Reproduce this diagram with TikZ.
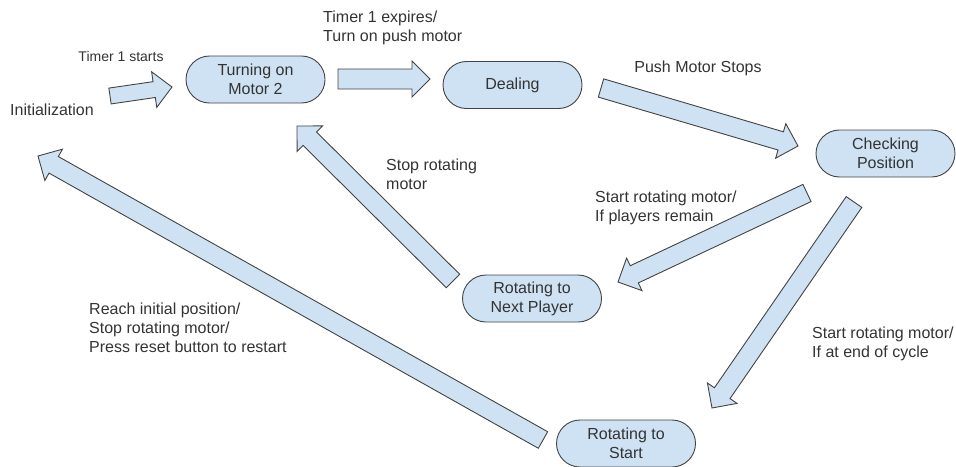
\documentclass[tikz,border=0pt]{standalone}
\usepackage{fontspec}
\setmainfont{Liberation Sans}
\usetikzlibrary{calc}
\usetikzlibrary{shapes.misc}

\definecolor{stateblue}{HTML}{CFE2F3}
\definecolor{edgegray}{HTML}{434343}
\definecolor{textgray}{HTML}{333333}

\tikzset{
  state/.style={rounded rectangle, draw=edgegray, fill=stateblue, line width=0.9pt,
    minimum width=139pt, minimum height=47pt, inner sep=0pt, align=center,
    text=textgray, font=\fontsize{16}{19}\selectfont},
  lbl/.style={align=left, inner sep=0pt, text=textgray, font=\fontsize{16}{19}\selectfont},
  arrowbox/.style={draw=edgegray, fill=stateblue, line width=0.9pt, line join=miter}
}

% block arrow between two named coordinates, optional half shaft width
\newcommand{\blockarrow}[3][9.5pt]{%
  \coordinate (hb) at ($(#3)!18pt!(#2)$);
  \draw[arrowbox] ($(#2)!#1!90:(#3)$) -- ($(hb)!#1!90:(#3)$) -- ($(hb)!18pt!90:(#3)$) -- (#3)
    -- ($(hb)!18pt!-90:(#3)$) -- ($(hb)!#1!-90:(#3)$) -- ($(#2)!#1!-90:(#3)$) -- cycle;
}

\begin{document}
\begin{tikzpicture}[x=1pt,y=-1pt]
  \useasboundingbox (0,0) rectangle (956,466);

  \node[state] (motor) at (255.5,79.5) {Turning on\\Motor 2};
  \node[state] (deal) at (512.5,85) {Dealing};
  \node[state] (check) at (885.5,153.5) {Checking\\Position};
  \node[state] (nextp) at (532,298.5) {Rotating to\\Next Player};
  \node[state] (rstart) at (626,443.5) {Rotating to\\Start};

  % arrow ends
  \coordinate (a1s) at (110,96);  \coordinate (a1e) at (172,87);
  \coordinate (a2s) at (338,79);  \coordinate (a2e) at (430,79);
  \coordinate (a3s) at (601,88);  \coordinate (a3e) at (798,146);
  \coordinate (a4s) at (807,193); \coordinate (a4e) at (618,282);
  \coordinate (a5s) at (854,202); \coordinate (a5e) at (712,408);
  \coordinate (a6s) at (453,281); \coordinate (a6e) at (297,126);
  \coordinate (a7s) at (543,440); \coordinate (a7e) at (38,156);

  \blockarrow[8pt]{a1s}{a1e}
  \blockarrow[10pt]{a2s}{a2e}
  \blockarrow{a3s}{a3e}
  \blockarrow{a4s}{a4e}
  \blockarrow{a5s}{a5e}
  \blockarrow{a6s}{a6e}
  \blockarrow{a7s}{a7e}

  % labels
  \node[lbl, font=\fontsize{14}{17}\selectfont] (lstart) at (121,56) {Timer 1 starts};
  \node[lbl, anchor=west] (linit) at (10,110) {Initialization};
  \node[lbl, anchor=west] (lexp) at (323,28) {Timer 1 expires/\\Turn on push motor};
  \node[lbl] (lpush) at (698,68) {Push Motor Stops};
  \node[lbl, anchor=west] (lstop) at (386,174) {Stop rotating\\motor};
  \node[lbl, anchor=west] (lremain) at (595,207.5) {Start rotating motor/\\If players remain};
  \node[lbl, anchor=west] (lreach) at (89,328) {Reach initial position/\\Stop rotating motor/\\Press reset button to restart};
  \node[lbl, anchor=west] (lcycle) at (812,343.5) {Start rotating motor/\\If at end of cycle};
\end{tikzpicture}
\end{document}
